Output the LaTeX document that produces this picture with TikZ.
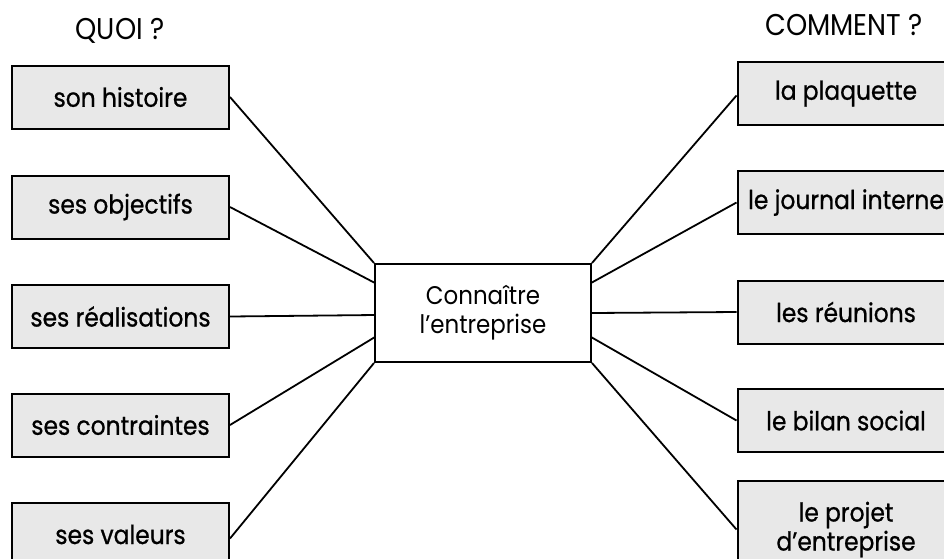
\documentclass[tikz,border=0pt]{standalone}
\usepackage{fontspec}
\setmainfont[FakeStretch=0.9]{Poppins}
\newfontfamily\labfont[FakeStretch=0.9,FakeBold=0.8]{Poppins}
\begin{document}
\begin{tikzpicture}[x=1pt,y=-1pt,
  lab/.style={draw=black, line width=2pt, fill=black!9, minimum width=217pt,
    minimum height=63pt, inner sep=0pt, align=center, font=\labfont\fontsize{26}{29}\selectfont},
  mid/.style={draw=black, line width=2pt, fill=white, minimum width=216pt,
    minimum height=98pt, inner sep=0pt, align=center, font=\fontsize{25.5}{29}\selectfont},
  ttl/.style={inner sep=0pt, font=\fontsize{30}{32}\selectfont},
  conn/.style={line width=1.8pt}]
\useasboundingbox (0,0) rectangle (944,558);
\clip (0,0) rectangle (944,558);
\fill[white] (0,0) rectangle (944,558);

\node[ttl] (quoi) at (120,31) {QUOI ?};
\node[ttl] (comment) at (844,25) {COMMENT ?};

\node[mid] (c) at (483,313) {Connaître\\l’entreprise};

\node[lab] (l1) at (120.5,97) {son histoire};
\node[lab] (l2) at (120.5,207) {ses objectifs};
\node[lab] (l3) at (120.5,316.5) {ses réalisations};
\node[lab] (l4) at (120.5,425) {ses contraintes};
\node[lab] (l5) at (120.5,534.5) {ses valeurs};

\node[lab] (r1) at (846,93.5) {la plaquette};
\node[lab] (r2) at (846,202.5) {le journal interne};
\node[lab] (r3) at (846,312) {les réunions};
\node[lab] (r4) at (846,420.5) {le bilan social};
\node[lab, minimum height=97pt] (r5) at (846,529.5) {le projet\\d’entreprise};

\coordinate (cl2) at (375,283);
\coordinate (cl3) at (375,315);
\coordinate (cl4) at (375,337);
\coordinate (cr2) at (591,283);
\coordinate (cr3) at (591,313);
\coordinate (cr4) at (591,337);

\draw[conn] (l1.east) -- (c.north west);
\draw[conn] (l2.east) -- (cl2);
\draw[conn] (l3.east) -- (cl3);
\draw[conn] (l4.east) -- (cl4);
\draw[conn] ([yshift=-4pt]l5.west -| l5.east) -- (c.south west);

\draw[conn] ([yshift=-2pt]r1.west) -- (c.north east);
\draw[conn] (r2.west) -- (cr2);
\draw[conn] (r3.west) -- (cr3);
\draw[conn] (r4.west) -- (cr4);
\draw[conn] (r5.west) -- (c.south east);
\end{tikzpicture}
\end{document}
